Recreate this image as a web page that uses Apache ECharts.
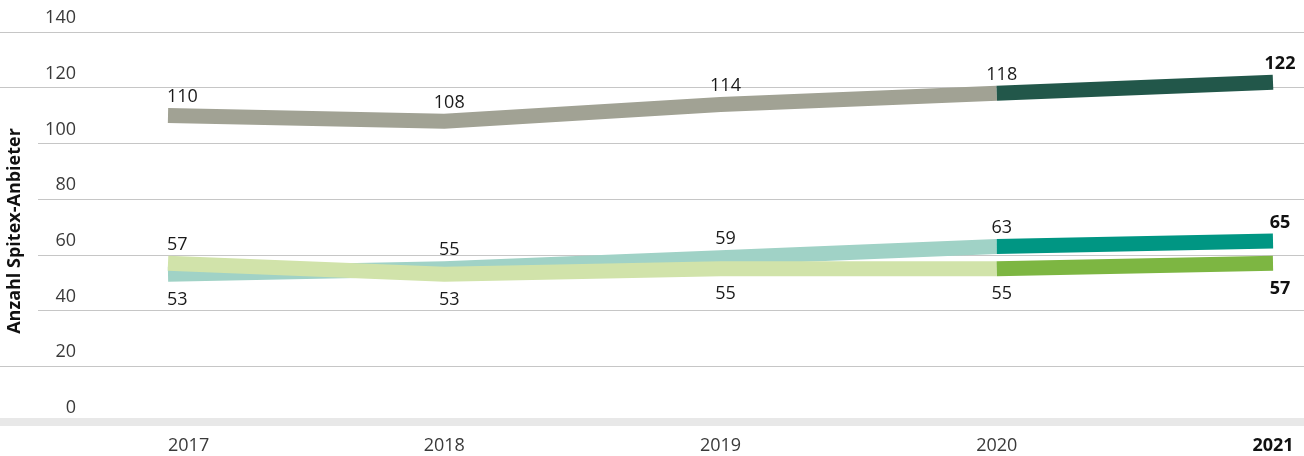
<!DOCTYPE html>
<html>
<head>
<meta charset="utf-8">
<style>
  html, body { margin: 0; padding: 0; background: #ffffff; }
  #chart { width: 1304px; height: 456px; }
</style>
<script src="https://cdn.jsdelivr.net/npm/echarts@6/dist/echarts.min.js"></script>
</head>
<body>
<div id="chart"></div>
<script>
// Anzahl Spitex-Anbieter, 2017–2021
const years = ['2017', '2018', '2019', '2020', '2021'];
const yTicks = [0, 20, 40, 60, 80, 100, 120, 140];

const seriesGrey = [110, 108, 114, 118, 122];
const seriesTeal = [53, 55, 59, 63, 65];
const seriesGreen = [57, 53, 55, 55, 57];

const yTitle = 'Anzahl Spitex-Anbieter';

// colours: earlier years (pale) and latest year (strong)
const palette = {
  grey:  { pale: '#a1a294', strong: '#22574a' },
  teal:  { pale: '#a0d2c6', strong: '#009683' },
  green: { pale: '#d1e3aa', strong: '#7db642' }
};

const FONT = "'Open Sans', 'Noto Sans', sans-serif";
const last = years.length - 1;
const DIST_TOP = 9;
const DIST_BOTTOM = 16;

function labelFor(position) {
  return { position: position, distance: position === 'top' ? DIST_TOP : DIST_BOTTOM };
}

// values up to the second-to-last year, pale colour
function paleData(values, positions) {
  return values.map((v, i) => {
    if (i === last) return null;
    const item = { value: v, label: labelFor(positions[i]) };
    if (i === 0) { item.label.align = 'left'; item.label.offset = [-1, 0]; }
    return item;
  });
}
// last segment, strong colour, label only on the final point
function strongData(values, position) {
  return values.map((v, i) => {
    if (i < last - 1) return null;
    if (i === last) return { value: v, label: Object.assign({ show: true }, labelFor(position)) };
    return { value: v, label: { show: false } };
  });
}

function lineSeries(name, data, color, z) {
  return {
    name: name,
    type: 'line',
    xAxisIndex: 1,
    yAxisIndex: 1,
    data: data,
    z: z,
    symbol: 'circle',
    symbolSize: 1,
    showSymbol: true,
    itemStyle: { color: 'rgba(0,0,0,0)' },
    lineStyle: { color: color, width: 15, cap: 'butt', join: 'miter' },
    connectNulls: false,
    animation: false,
    emphasis: { disabled: true },
    label: {
      show: true,
      distance: DIST_TOP,
      offset: [5, 0],
      fontFamily: FONT,
      fontSize: 18,
      color: '#1a1a1a',
      lineHeight: 18
    }
  };
}

const boldLabel = { fontWeight: 'bold', color: '#111111', offset: [7, 0] };

const greyPos = ['top', 'top', 'top', 'top', 'top'];
const tealPos = ['bottom', 'top', 'top', 'top', 'top'];
const greenPos = ['top', 'bottom', 'bottom', 'bottom', 'bottom'];

const series = [
  lineSeries('grey', paleData(seriesGrey, greyPos), palette.grey.pale, 2),
  lineSeries('teal', paleData(seriesTeal, tealPos), palette.teal.pale, 3),
  lineSeries('green', paleData(seriesGreen, greenPos), palette.green.pale, 4),
  lineSeries('grey21', strongData(seriesGrey, 'top'), palette.grey.strong, 5),
  lineSeries('teal21', strongData(seriesTeal, 'top'), palette.teal.strong, 5),
  lineSeries('green21', strongData(seriesGreen, 'bottom'), palette.green.strong, 5)
];
// bold final-year labels
for (let s = 3; s < 6; s++) {
  Object.assign(series[s].label, boldLabel);
}

const chart = echarts.init(document.getElementById('chart'), null, { renderer: 'canvas' });

const option = {
  backgroundColor: '#ffffff',
  animation: false,
  grid: [
    // full-width grid carrying the gridlines and value labels
    { left: 0, right: 0, top: 32, bottom: 34, containLabel: false, outerBoundsMode: 'none' },
    // plotting grid for the lines
    { left: 168, right: 31, top: 32, bottom: 34, containLabel: false, outerBoundsMode: 'none' }
  ],
  xAxis: [
    {
      gridIndex: 0,
      type: 'value',
      min: 0,
      max: 1,
      axisLine: { show: true, onZero: false, lineStyle: { color: '#e8e8e8', width: 8 } },
      axisTick: { show: false },
      axisLabel: { show: false },
      splitLine: { show: false }
    },
    {
      gridIndex: 1,
      type: 'category',
      boundaryGap: false,
      data: years.map((y, i) => {
        const ts = { };
        if (i === 0) { ts.align = 'left'; }
        if (i === last) { ts.fontWeight = 'bold'; ts.color = '#111111'; }
        return { value: y, textStyle: ts };
      }),
      axisLine: { show: false },
      axisTick: { show: false },
      splitLine: { show: false },
      axisLabel: {
        margin: 15,
        fontFamily: FONT,
        fontSize: 18,
        color: '#3a3a3a',
        interval: 0
      }
    }
  ],
  yAxis: [
    {
      gridIndex: 0,
      type: 'value',
      min: yTicks[0],
      max: yTicks[yTicks.length - 1],
      interval: yTicks[1] - yTicks[0],
      axisLine: { show: false },
      axisTick: { show: false },
      splitLine: { show: true, lineStyle: { color: '#c6c6c6', width: 1 } },
      axisLabel: {
        inside: true,
        margin: 76,
        align: 'right',
        verticalAlign: 'bottom',
        lineHeight: 18,
        padding: [0, 0, 5, 0],
        fontFamily: FONT,
        fontSize: 18,
        color: '#3a3a3a'
      }
    },
    {
      gridIndex: 1,
      type: 'value',
      min: yTicks[0],
      max: yTicks[yTicks.length - 1],
      interval: yTicks[1] - yTicks[0],
      z: 6,
      name: yTitle,
      nameLocation: 'middle',
      nameRotate: 90,
      nameGap: 130,
      nameTextStyle: {
        fontFamily: FONT,
        fontSize: 18,
        fontWeight: 'bold',
        color: '#111111',
        backgroundColor: '#ffffff',
        padding: [10, 14, 14, 6]
      },
      axisLine: { show: false },
      axisTick: { show: false },
      axisLabel: { show: false },
      splitLine: { show: false }
    }
  ],
  series: series
};

chart.setOption(option);
</script>
</body>
</html>
